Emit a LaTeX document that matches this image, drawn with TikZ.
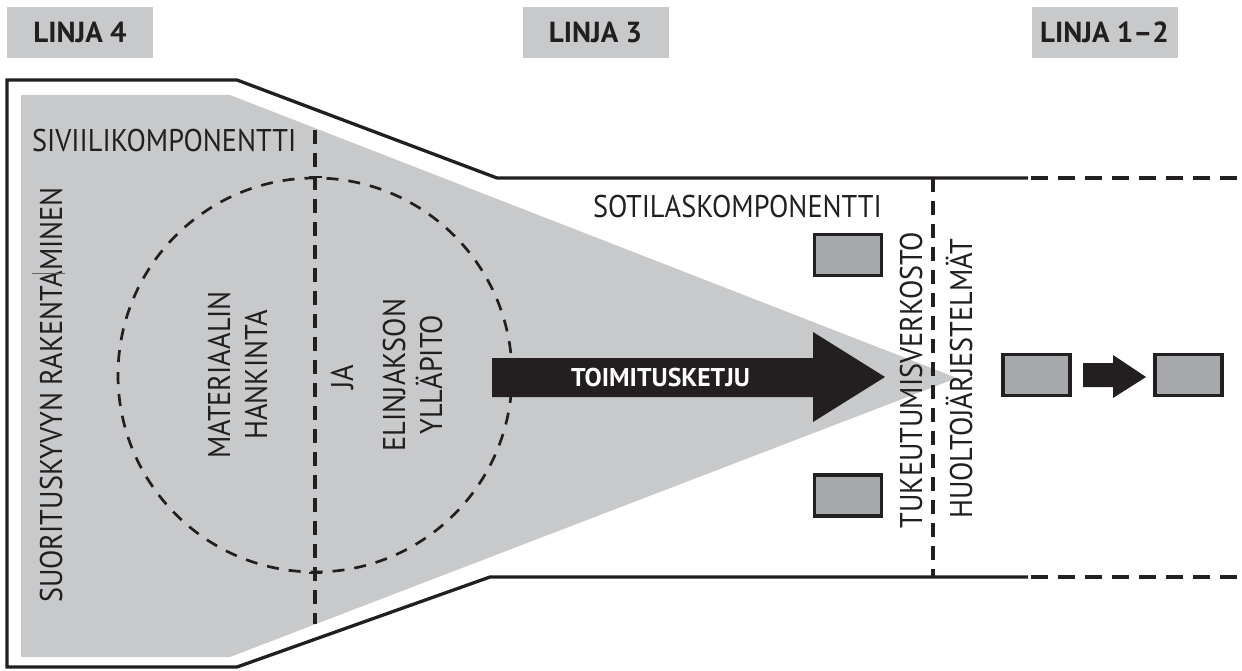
\documentclass[tikz,border=0pt]{standalone}
\usepackage{fontspec}
\setmainfont{PT Sans}
\newfontfamily\bodyf[FakeStretch=0.9]{PT Sans}
\definecolor{ink}{HTML}{231F20}
\definecolor{funnelgray}{HTML}{C8C9CB}
\definecolor{boxgray}{HTML}{A7A9AC}
\tikzset{
  bodytxt/.style={font=\bodyf\fontsize{31.4}{36}\selectfont, text=ink, inner sep=0pt},
  vtxt/.style={bodytxt, rotate=90, anchor=base},
  hdr/.style={fill=funnelgray, minimum width=146pt, minimum height=51pt, inner sep=0pt,
    font=\bfseries\fontsize{29}{33}\selectfont, text=ink, text height=20.3pt, text depth=0pt},
  smallbox/.style={draw=ink, fill=boxgray, line width=3.3pt, minimum width=67pt, minimum height=41pt, inner sep=0pt},
  outline/.style={draw=ink, line width=3.3pt, line join=miter},
  dashline/.style={draw=ink, line width=3.5pt, dash pattern=on 14pt off 9pt},
  dashend/.style={draw=ink, line width=3.5pt, dash pattern=on 17pt off 10pt},
  circdash/.style={draw=ink, line width=2.7pt, dash pattern=on 12pt off 10pt},
  blockarrow/.style={fill=ink},
}
\begin{document}
\begin{tikzpicture}[x=1pt,y=-1pt]
\useasboundingbox (0,0) rectangle (1242,671);
% header labels
\node[hdr] (l4) at (80,32.5) {LINJA 4};
\node[hdr] (l3) at (595.5,32.5) {LINJA 3};
\node[hdr] (l12) at (1104.5,32.5) {LINJA 1–2};
% gray funnel
\fill[funnelgray] (21,95) -- (230,95) -- (957,378) -- (230,657) -- (21,657) -- cycle;
% outline
\draw[outline] (1028,178) -- (497,178) -- (237,80) -- (7,80) -- (7,667) -- (237,667) -- (490,577) -- (1028,577);
\coordinate (tA) at (1031,178); \coordinate (tB) at (1242,178);
\coordinate (bA) at (1031,577); \coordinate (bB) at (1242,577);
\draw[dashend] (tA) -- (tB);
\draw[dashend] (bA) -- (bB);
% vertical dashed lines
\coordinate (v1a) at (315,130); \coordinate (v1b) at (315,624);
\draw[dashline] (v1a) -- (v1b);
\coordinate (v2a) at (933,178); \coordinate (v2b) at (933,577);
\draw[dashline] (v2a) -- (v2b);
% circle
\coordinate (cc) at (315,375);
\draw[circdash] (cc) circle[radius=197pt];
\draw[ink, line width=2.7pt] (309,177) -- (322,177);
\draw[ink, line width=2.7pt] (309,573) -- (322,573);
% texts
\node[bodytxt, anchor=base west] (sivi) at (32,152) {SIVIILIKOMPONENTTI};
\node[bodytxt, anchor=base east] (soti) at (882,218) {SOTILASKOMPONENTTI};
\node[vtxt] (suor) at (62,395) {SUORITUSKYVYN RAKENTAMINEN};
\draw[ink!70, line width=0.8pt] (32,273) -- (65,273);
\node[vtxt] (mate) at (230,375) {MATERIAALIN};
\node[vtxt] (hank) at (267,375) {HANKINTA};
\node[vtxt] (ja) at (353,377) {JA};
\node[vtxt] (elin) at (405,375) {ELINJAKSON};
\node[vtxt] (yllap) at (442,375) {YLLÄPITO};
% big arrow
\fill[blockarrow] (492,358) -- (813,358) -- (813,332) -- (885,377) -- (813,422) -- (813,397) -- (492,397) -- cycle;
\node[font=\bfseries\fontsize{25.7}{30}\selectfont, text=white, inner sep=0pt, text height=18pt, text depth=0pt] (toim) at (660.5,377) {TOIMITUSKETJU};
\node[vtxt] (tuke) at (922,380) {TUKEUTUMISVERKOSTO};
\node[vtxt] (huol) at (972,379) {HUOLTOJÄRJESTELMÄT};
% small boxes
\node[smallbox] (b1) at (848,255) {};
\node[smallbox] (b2) at (848,495.5) {};
\node[smallbox] (b3) at (1036.5,375) {};
\node[smallbox] (b4) at (1188.5,375) {};
% small arrow between b3 and b4
\fill[blockarrow] (1083,363) -- (1113,363) -- (1113,355) -- (1146,377) -- (1113,398) -- (1113,387) -- (1083,387) -- cycle;
\end{tikzpicture}
\end{document}
